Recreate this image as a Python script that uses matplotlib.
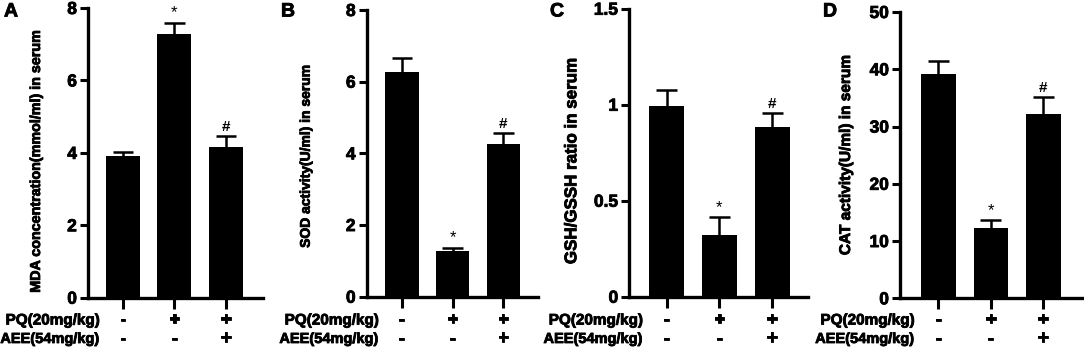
import matplotlib
matplotlib.use("Agg")
import matplotlib.pyplot as plt
import matplotlib.transforms as mtransforms
import matplotlib.patheffects as pe

plt.rcParams['font.family'] = ['Liberation Sans', 'DejaVu Sans']
plt.rcParams['font.weight'] = 'bold'

# данные панелей
groups = [0, 1, 2]
pq_signs = ['-', '+', '+']
aee_signs = ['-', '-', '+']

mda_mean = [3.91, 7.27, 4.17]
mda_err = [0.11, 0.32, 0.30]
sod_mean = [6.28, 1.27, 4.27]
sod_err = [0.39, 0.10, 0.30]
gsh_mean = [0.995, 0.32, 0.885]
gsh_err = [0.08, 0.095, 0.07]
cat_mean = [39.1, 12.2, 32.2]
cat_err = [2.3, 1.4, 2.9]

marks_a = ['', '*', '#']
marks_b = ['', '*', '#']
marks_c = ['', '*', '#']
marks_d = ['', '*', '#']

panels = [
    # letter, mean, err, marks, ylabel, ylim, yticks, yticklabels
    ('A', mda_mean, mda_err, marks_a, 'MDA concentration(mmol/ml) in serum',
     (0, 8), [0, 2, 4, 6, 8], ['0', '2', '4', '6', '8']),
    ('B', sod_mean, sod_err, marks_b, 'SOD activity(U/ml) in serum',
     (0, 8), [0, 2, 4, 6, 8], ['0', '2', '4', '6', '8']),
    ('C', gsh_mean, gsh_err, marks_c, 'GSH/GSSH ratio in serum',
     (0, 1.5), [0, 0.5, 1, 1.5], ['0', '0.5', '1', '1.5']),
    ('D', cat_mean, cat_err, marks_d, 'CAT activity(U/ml) in serum',
     (0, 50), [0, 10, 20, 30, 40, 50], ['0', '10', '20', '30', '40', '50']),
]

W, H = 1084, 349
# положение осей в пикселях: left, right, top, bottom
boxes = [
    (88, 263, 8, 297.7),
    (366.7, 538, 10, 296.7),
    (629.3, 808, 8.7, 296.7),
    (900, 1081.7, 12, 298.3),
]
xlims = [(-0.68, 2.72), (-0.69, 2.68), (-0.71, 2.68), (-0.73, 2.73)]
ylab_off = [-45, -54, -50, -47]
ylab_size = [10.3, 10.0, 12.2, 11.1]
ylab_y = [0.47, 0.49, 0.47, 0.5]
letter_x = [4, 281, 550, 823]

heavy = [pe.withStroke(linewidth=0.6, foreground='black')]

fig = plt.figure(figsize=(W / 100, H / 100), dpi=100)

for i, (letter, mean, err, marks, ylabel, ylim, yticks, yticklabels) in enumerate(panels):
    l, r, t, b = boxes[i]
    ax = fig.add_axes([l / W, (H - b) / H, (r - l) / W, (b - t) / H])
    ax.bar(groups, mean, width=0.66, color='black', zorder=2)
    # только верхняя часть планки погрешности
    tops = [m + e for m, e in zip(mean, err)]
    ax.vlines(groups, mean, tops, color='black', linewidth=1.8, zorder=1)
    ax.hlines(tops, [g - 0.2 for g in groups], [g + 0.2 for g in groups],
              color='black', linewidth=1.8, zorder=1)
    span = ylim[1] - ylim[0]
    for g, top, s in zip(groups, tops, marks):
        if s:
            ax.text(g, top + span * 0.008, s, ha='center', va='bottom',
                    fontsize=11 if s == '#' else 12, fontweight='normal' if s == '*' else 'bold')
    ax.set_xlim(*xlims[i])
    ax.set_ylim(*ylim)
    ax.set_yticks(yticks)
    ax.set_yticklabels(yticklabels, fontsize=12.5, fontweight='bold')
    for lab in ax.get_yticklabels():
        lab.set_path_effects(heavy)
    ax.set_xticks(groups)
    ax.set_xticklabels([])
    ax.tick_params(axis='x', length=8, width=2.2, direction='out')
    ax.tick_params(axis='y', length=6, width=2.2, direction='out', pad=2)
    for side in ['top', 'right']:
        ax.spines[side].set_visible(False)
    for side in ['left', 'bottom']:
        ax.spines[side].set_linewidth(2.4)
    ax.set_ylabel(ylabel, fontsize=ylab_size[i], fontweight='bold', path_effects=heavy)
    ax.yaxis.set_label_coords(ylab_off[i] / (r - l), ylab_y[i])

    trans = mtransforms.blended_transform_factory(ax.transData, ax.transAxes)
    ph = b - t
    y1 = -(320.5 - b) / ph
    y2 = -(339 - b) / ph
    ax.text(-0.45, y1, 'PQ(20mg/kg)', transform=trans, ha='right', va='center',
            fontsize=11, fontweight='bold', path_effects=heavy)
    ax.text(-0.45, y2, 'AEE(54mg/kg)', transform=trans, ha='right', va='center',
            fontsize=10.5, fontweight='bold', path_effects=heavy)
    for g, s1, s2 in zip(groups, pq_signs, aee_signs):
        ax.text(g, y1, s1, transform=trans, ha='center', va='center',
                fontsize=14 if s1 == '+' else 13, fontweight='bold', path_effects=heavy)
        ax.text(g, y2, s2, transform=trans, ha='center', va='center',
                fontsize=14 if s2 == '+' else 13, fontweight='bold', path_effects=heavy)

    fig.text(letter_x[i] / W, (H - 12) / H, letter, fontsize=14, fontweight='bold',
             ha='left', va='center', path_effects=heavy)

fig.savefig('out.png', dpi=100)
